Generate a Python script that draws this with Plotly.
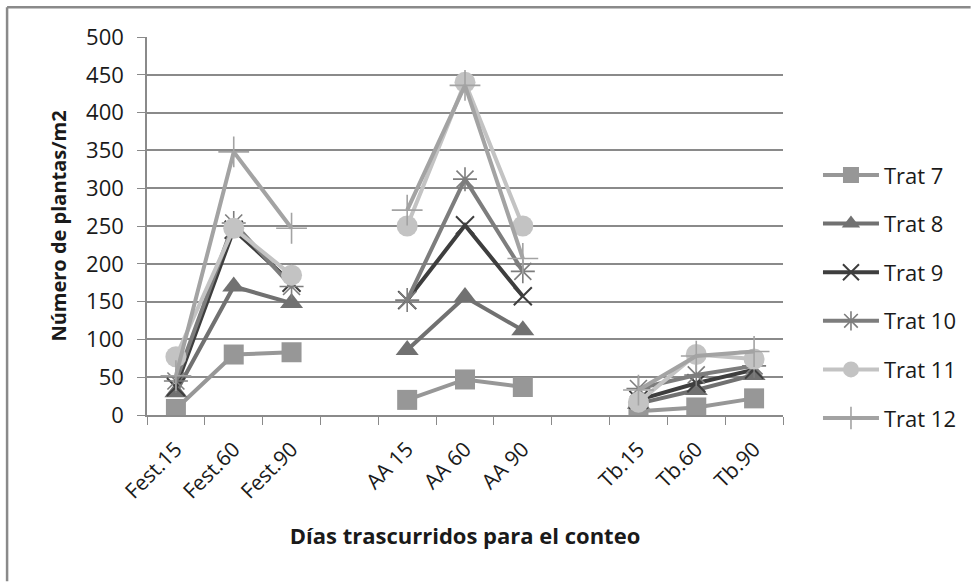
import plotly.graph_objects as go

# Sampling dates per grass species (blank slots separate the three groups)
categories = ["Fest.15", "Fest.60", "Fest.90", " ",
              "AA 15", "AA 60", "AA 90", "  ",
              "Tb.15", "Tb.60", "Tb.90"]

# Plants per m2 for each treatment, in the order Fest / AA / Tb
trat7 = [8, 80, 83, 20, 47, 37, 5, 10, 22]
trat8 = [30, 170, 148, 86, 156, 112, 15, 33, 53]
trat9 = [37, 245, 175, 152, 251, 157, 20, 42, 60]
trat10 = [45, 254, 170, 152, 312, 190, 35, 53, 65]
trat11 = [77, 247, 185, 250, 440, 250, 17, 80, 74]
trat12 = [52, 348, 247, 271, 436, 207, 33, 78, 84]

y_ticks = [0, 50, 100, 150, 200, 250, 300, 350, 400, 450, 500]

FONT = "Open Sans"


def spread(values):
    """Place the nine values on the eleven slots, leaving the spacers empty."""
    v = list(values)
    return v[0:3] + [None] + v[3:6] + [None] + v[6:9]


series = [
    ("Trat 7", trat7, "#979797", "square", 20, 0),
    ("Trat 8", trat8, "#717171", "triangle-up", 20, 0),
    ("Trat 9", trat9, "#3e3e3e", "x-thin", 18, 2),
    ("Trat 10", trat10, "#7d7d7d", "asterisk", 20, 1.6),
    ("Trat 11", trat11, "#c3c3c3", "circle", 21, 0),
    ("Trat 12", trat12, "#a3a3a3", "cross-thin", 22, 1.6),
]

fig = go.Figure()
for name, vals, color, symbol, size, lw in series:
    fig.add_trace(go.Scatter(
        x=categories,
        y=spread(vals),
        name=name,
        legendgroup=name,
        mode="lines+markers",
        connectgaps=False,
        line=dict(color=color, width=4),
        marker=dict(symbol=symbol, size=size, color=color,
                    line=dict(color=color, width=lw)),
    ))

# outer chart frame: left and top edges
frame = dict(color="#8a8a8a", width=2.5)
fig.add_shape(type="line", xref="paper", yref="paper",
              x0=-0.22, x1=-0.22, y0=-0.44, y1=1.079, line=frame, layer="below")
fig.add_shape(type="line", xref="paper", yref="paper",
              x0=-0.22, x1=1.295, y0=1.079, y1=1.079, line=frame, layer="below")

fig.update_layout(
    width=974, height=583,
    margin=dict(l=147, r=191, t=37, b=168),
    paper_bgcolor="white", plot_bgcolor="white",
    font=dict(family=FONT, color="#1a1a1a", size=22),
    showlegend=True,
    legend=dict(x=1.055, y=0.69, xanchor="left", yanchor="top",
                font=dict(family=FONT, size=22, color="#1a1a1a"),
                tracegroupgap=17, itemwidth=56,
                bgcolor="rgba(0,0,0,0)"),
    xaxis=dict(
        type="category", categoryorder="array", categoryarray=categories,
        range=[-0.5, len(categories) - 0.5],
        tickangle=-45, tickson="boundaries",
        ticks="outside", ticklen=8, tickcolor="#8a8a8a",
        ticklabelstandoff=12,
        showline=True, linecolor="#8a8a8a", linewidth=1.5,
        showgrid=False, zeroline=False,
        tickfont=dict(family=FONT, size=21, color="#1a1a1a"),
        title=dict(text="<b>Días trascurridos para el conteo</b>",
                   font=dict(family=FONT, size=22, color="#1a1a1a"),
                   standoff=25),
    ),
    yaxis=dict(
        range=[0, 500], tickvals=y_ticks,
        ticks="outside", ticklen=8, tickcolor="#8a8a8a",
        ticklabelstandoff=9,
        showline=True, linecolor="#8a8a8a", linewidth=1.5,
        showgrid=True, gridcolor="#8a8a8a", gridwidth=1.5,
        zeroline=False,
        tickfont=dict(family=FONT, size=22, color="#1a1a1a"),
        title=dict(text="<b>Número de plantas/m2</b>",
                   font=dict(family=FONT, size=20, color="#1a1a1a"),
                   standoff=14),
    ),
)

fig.write_html("out.html")
